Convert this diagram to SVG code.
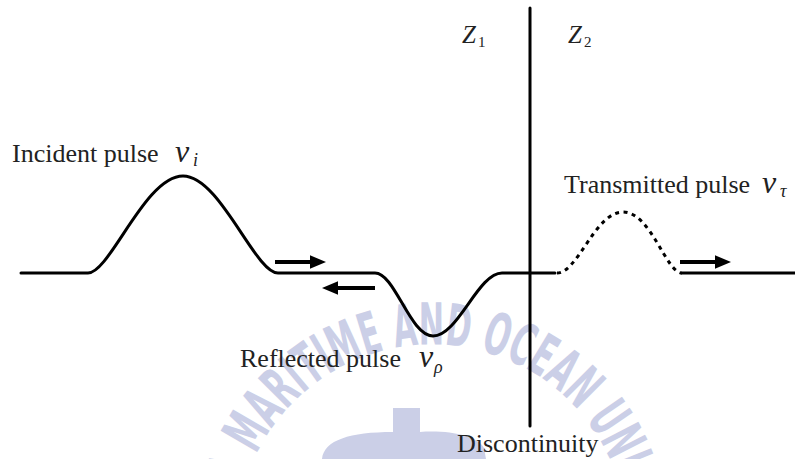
<svg xmlns="http://www.w3.org/2000/svg" width="795" height="459" viewBox="0 0 795 459">
<style>
.wave{fill:none;stroke:#000;stroke-width:3;stroke-linecap:round;stroke-linejoin:round}
.dot{fill:none;stroke:#000;stroke-width:3;stroke-dasharray:4 4.5}
.arr{stroke:#000;stroke-width:4;fill:none}
.lbl{font-family:"Liberation Serif","Times New Roman",serif;font-size:26px;fill:#222}
.sym{font-family:"Liberation Serif","Times New Roman",serif;font-style:italic;fill:#222}
.wm{font-family:"DejaVu Sans Condensed","DejaVu Sans",sans-serif;font-weight:bold;font-size:58px;fill:#cbcfe7}
</style>
<defs>
<marker id="ah" markerWidth="4" markerHeight="4" refX="1" refY="2" orient="auto" markerUnits="strokeWidth">
<path d="M0,0.3 L4,2 L0,3.7 Z" fill="#000"/>
</marker>
<path id="wmArc" d="M237.7,523 A195,195 0 0 1 626.3,523"/>
</defs>
<rect width="795" height="459" fill="#fff"/>
<g id="watermark">
<text class="wm"><textPath href="#wmArc" startOffset="37" textLength="490" lengthAdjust="spacingAndGlyphs">A MARITIME AND OCEAN UNI</textPath></text>
<path d="M393,408 H420 V432 C450,430 478,436 484,448 L486,459 H322 C324,440 350,432 393,432 Z" fill="#cbcfe7"/>
</g>
<g id="connectors">
<path class="wave" d="M21,273 H88 C110,273 145,176 183,176 C220,176 255,273 278,273 H375 C395,273 410,336 433,336 C458,336 478,273 502,273 H555"/>
<path class="dot" d="M557,273 C578,273 595,212 623,212 C651,212 666,273 682,273"/>
<path class="wave" d="M682,273 H795"/>
<line class="wave" x1="530" y1="8" x2="530" y2="426"/>
<line class="arr" x1="275" y1="262" x2="314" y2="262" marker-end="url(#ah)"/>
<line class="arr" x1="375" y1="288" x2="334" y2="288" marker-end="url(#ah)"/>
<line class="arr" x1="680" y1="262" x2="719" y2="262" marker-end="url(#ah)"/>
</g>
<g id="incident">
<text class="lbl" x="12" y="162">Incident pulse</text>
<text class="sym" x="175" y="162" font-size="32">v</text>
<text class="sym" x="193" y="166" font-size="18">i</text>
</g>
<g id="reflected">
<text class="lbl" x="240" y="367">Reflected pulse</text>
<text class="sym" x="419" y="367" font-size="32">v</text>
<text class="sym" x="434" y="373" font-size="18">ρ</text>
</g>
<g id="transmitted">
<text class="lbl" x="564" y="193">Transmitted pulse</text>
<text class="sym" x="762" y="193" font-size="32">v</text>
<text class="sym" x="780" y="197" font-size="18">τ</text>
</g>
<g id="z1">
<text class="sym" x="462" y="43" font-size="25">Z</text>
<text class="lbl" x="478" y="47" style="font-size:15px">1</text>
</g>
<g id="z2">
<text class="sym" x="568" y="43" font-size="25">Z</text>
<text class="lbl" x="584" y="47" style="font-size:15px">2</text>
</g>
<g id="discontinuity">
<text class="lbl" x="457" y="452">Discontinuity</text>
</g>
</svg>
